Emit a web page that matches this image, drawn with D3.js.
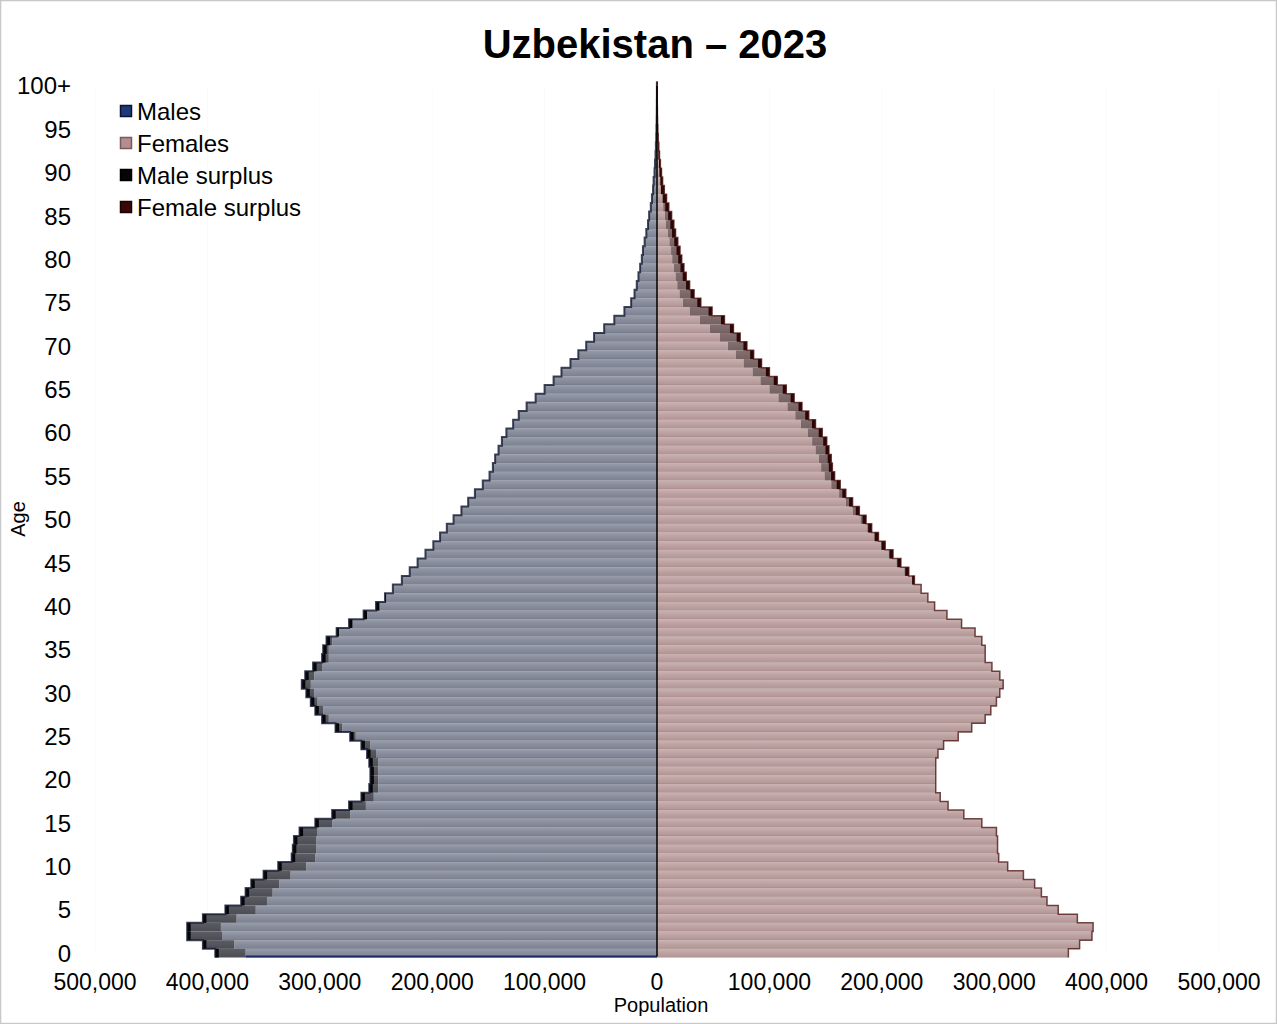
<!DOCTYPE html>
<html>
<head>
<meta charset="utf-8">
<script src="https://cdn.jsdelivr.net/npm/d3@7"></script>
<style>
  html, body { margin: 0; padding: 0; background: #fff; }
  svg { display: block; font-family: "Liberation Sans", Arial, sans-serif; }
</style>
</head>
<body>
<svg id="chart" width="1277" height="1024"></svg>
<script>
const title = "Uzbekistan – 2023";
const ages = d3.range(0, 101);
const males = [
  393000, 404000, 418000, 418000, 404000, 384000, 370000, 366000, 361000, 350000,
  337000, 325000, 324000, 323000, 318000, 304000, 289000, 274000, 263000, 256000,
  255000, 255000, 256000, 258000, 263000, 273000, 286000, 298000, 304000, 308000,
  312000, 316000, 313000, 306000, 298000, 297000, 294000, 285000, 274000, 261000,
  250000, 242000, 235000, 227000, 220000, 213000, 206000, 199000, 193000, 187000,
  181000, 174000, 168000, 162000, 155000, 149000, 146000, 144000, 141000, 138000,
  134000, 128000, 123000, 116000, 108000, 100000, 92000, 85000, 77000, 70000,
  63000, 56000, 47000, 38000, 29000, 23000, 20000, 18000, 16500, 15000,
  13500, 12500, 11000, 9500, 8000, 7000, 5500, 4500, 3500, 3000,
  2200, 1800, 1300, 1000, 700, 500, 300, 200, 150, 100,
  100
];
const females = [
  366000, 376000, 387000, 388000, 374000, 357000, 347000, 342000, 336000, 326000,
  312000, 304000, 303000, 303000, 302000, 289000, 273000, 259000, 252000, 248000,
  248000, 248000, 248000, 250000, 255000, 268000, 280000, 292000, 297000, 302000,
  305000, 308000, 305000, 298000, 292000, 292000, 289000, 283000, 271000, 258000,
  247000, 241000, 235000, 229000, 224000, 217000, 210000, 203000, 197000, 191000,
  186000, 180000, 174000, 168000, 163000, 158000, 156000, 155000, 153000, 151000,
  147000, 141000, 135000, 129000, 122000, 115000, 107000, 100000, 93000, 86000,
  80000, 74000, 68000, 60000, 49000, 39000, 33000, 29000, 26000, 24000,
  22000, 20500, 18500, 16500, 15000, 13000, 10500, 8500, 6500, 5000,
  4000, 3000, 2200, 1600, 1100, 800, 500, 350, 250, 150,
  200
];
const yTickAges = [0, 5, 10, 15, 20, 25, 30, 35, 40, 45, 50, 55, 60, 65, 70, 75, 80, 85, 90, 95, 100];
const yTickLabels = ["0", "5", "10", "15", "20", "25", "30", "35", "40", "45", "50", "55", "60", "65", "70", "75", "80", "85", "90", "95", "100+"];
const xTicks = [-500000, -400000, -300000, -200000, -100000, 0, 100000, 200000, 300000, 400000, 500000];
const legendLabels = ["Males", "Females", "Male surplus", "Female surplus"];

const svg = d3.select("#chart");
const W = 1277, H = 1024;

svg.append("rect").attr("x", 0.5).attr("y", 0.5).attr("width", W - 1).attr("height", H - 1)
  .attr("fill", "#fff").attr("stroke", "#c8c8c8").attr("stroke-width", 1.5);

const x = d3.scaleLinear().domain([-500000, 500000]).range([95, 1219]);
const y = d3.scaleBand().domain(ages).range([957.5, 81.5]).padding(0);
const bw = y.bandwidth();

const defs = svg.append("defs");
function vgrad(id, stops) {
  const g = defs.append("linearGradient").attr("id", id)
    .attr("x1", 0).attr("y1", 0).attr("x2", 0).attr("y2", 1);
  stops.forEach(s => g.append("stop").attr("offset", s[0]).attr("stop-color", s[1]));
}
vgrad("gMale", [["0%", "#979dab"], ["45%", "#888e9c"], ["88%", "#7e8493"], ["100%", "#6f7584"]]);
vgrad("gFemale", [["0%", "#cbb1b1"], ["45%", "#bea3a3"], ["88%", "#b49898"], ["100%", "#a38787"]]);
vgrad("gMS", [["0%", "#5c5d64"], ["100%", "#4c4d54"]]);
vgrad("gFS", [["0%", "#857070"], ["100%", "#756161"]]);

// faint gridlines
svg.append("g").selectAll("line").data(xTicks.filter(d => d !== 0)).join("line")
  .attr("x1", d => x(d)).attr("x2", d => x(d)).attr("y1", 86).attr("y2", 953)
  .attr("stroke", "#fafafa").attr("stroke-width", 1);

const data = ages.map((a, i) => ({ age: a, m: males[i], f: females[i], mn: Math.min(males[i], females[i]) }));

// base bars
const bars = svg.append("g");
bars.selectAll(".mb").data(data).join("rect")
  .attr("x", d => x(-d.mn)).attr("width", d => x(0) - x(-d.mn))
  .attr("y", d => y(d.age)).attr("height", bw)
  .attr("fill", "url(#gMale)");
bars.selectAll(".fb").data(data).join("rect")
  .attr("x", x(0)).attr("width", d => x(d.mn) - x(0))
  .attr("y", d => y(d.age)).attr("height", bw)
  .attr("fill", "url(#gFemale)");

// surplus
bars.selectAll(".ms").data(data.filter(d => d.m > d.f)).join("rect")
  .attr("x", d => x(-d.m)).attr("width", d => x(-d.f) - x(-d.m))
  .attr("y", d => y(d.age)).attr("height", bw)
  .attr("fill", "url(#gMS)");
bars.selectAll(".fs").data(data.filter(d => d.f > d.m)).join("rect")
  .attr("x", d => x(d.m)).attr("width", d => x(d.f) - x(d.m))
  .attr("y", d => y(d.age)).attr("height", bw)
  .attr("fill", "url(#gFS)");

function outline(vals, sign) {
  const p = d3.path();
  data.forEach((d, i) => {
    const xv = x(sign * vals[i]);
    const yb = y(d.age) + bw, yt = y(d.age);
    if (i === 0) p.moveTo(xv, yb); else p.lineTo(xv, yb);
    p.lineTo(xv, yt);
  });
  return p.toString();
}
function surplusEdges(sel, isMale) {
  const rows = data.filter(d => isMale ? d.m > d.f : d.f > d.m);
  sel.selectAll("rect").data(rows).join("rect")
    .attr("x", d => isMale ? x(-d.m) : x(d.f) - Math.min(3.5, x(d.f) - x(d.m)))
    .attr("width", d => Math.min(3.5, isMale ? x(-d.f) - x(-d.m) : x(d.f) - x(d.m)))
    .attr("y", d => y(d.age)).attr("height", bw)
    .attr("fill", isMale ? "#050505" : "#2a0606");
}
surplusEdges(svg.append("g"), true);
surplusEdges(svg.append("g"), false);

svg.append("path").attr("d", outline(males, -1)).attr("fill", "none")
  .attr("stroke", "#10172e").attr("stroke-width", 2).attr("stroke-opacity", 0.8);
svg.append("path").attr("d", outline(females, 1)).attr("fill", "none")
  .attr("stroke", "#4a0e0e").attr("stroke-width", 1.5).attr("stroke-opacity", 0.75);

svg.append("line").attr("x1", x(-data[0].mn)).attr("x2", x(0))
  .attr("y1", y(0) + bw - 1).attr("y2", y(0) + bw - 1)
  .attr("stroke", "#1c2a66").attr("stroke-width", 2);

// center line
svg.append("line").attr("x1", x(0)).attr("x2", x(0)).attr("y1", 86).attr("y2", y(0) + bw - 1)
  .attr("stroke", "#000").attr("stroke-width", 1.5);

// title
svg.append("text").attr("x", 655).attr("y", 58).attr("text-anchor", "middle")
  .attr("font-size", 40).attr("font-weight", "bold").attr("fill", "#000").text(title);

// y tick labels
svg.append("g").selectAll("text").data(yTickAges).join("text")
  .attr("x", 71).attr("y", d => y(d) + bw / 2)
  .attr("dy", "0.36em").attr("text-anchor", "end")
  .attr("font-size", 24).attr("fill", "#000")
  .text((d, i) => yTickLabels[i]);

// x tick labels
const fmt = d3.format(",");
svg.append("g").selectAll("text").data(xTicks).join("text")
  .attr("x", d => x(d)).attr("y", 982).attr("dy", "0.36em")
  .attr("text-anchor", "middle").attr("font-size", 23).attr("fill", "#000")
  .text(d => fmt(Math.abs(d)));

svg.append("text").attr("x", 661).attr("y", 1005).attr("dy", "0.36em")
  .attr("text-anchor", "middle").attr("font-size", 20).attr("fill", "#000").text("Population");
svg.append("text").attr("transform", "translate(18,519) rotate(-90)")
  .attr("dy", "0.36em").attr("text-anchor", "middle")
  .attr("font-size", 20).attr("fill", "#000").text("Age");

// legend
const legFill = ["#1f3a78", "#b48e8e", "#050505", "#3a0808"];
const legStroke = ["#0c1330", "#7a5a5a", "#000", "#1a0303"];
const leg = svg.append("g").selectAll("g").data(legendLabels).join("g")
  .attr("transform", (d, i) => `translate(120,${111 + i * 32})`);
leg.append("rect").attr("x", 0.5).attr("y", -5.5).attr("width", 11).attr("height", 11)
  .attr("fill", (d, i) => legFill[i]).attr("stroke", (d, i) => legStroke[i]).attr("stroke-width", 1.5);
leg.append("text").attr("x", 17).attr("y", 0).attr("dy", "0.36em")
  .attr("font-size", 24).attr("fill", "#000").text(d => d);
</script>
</body>
</html>
